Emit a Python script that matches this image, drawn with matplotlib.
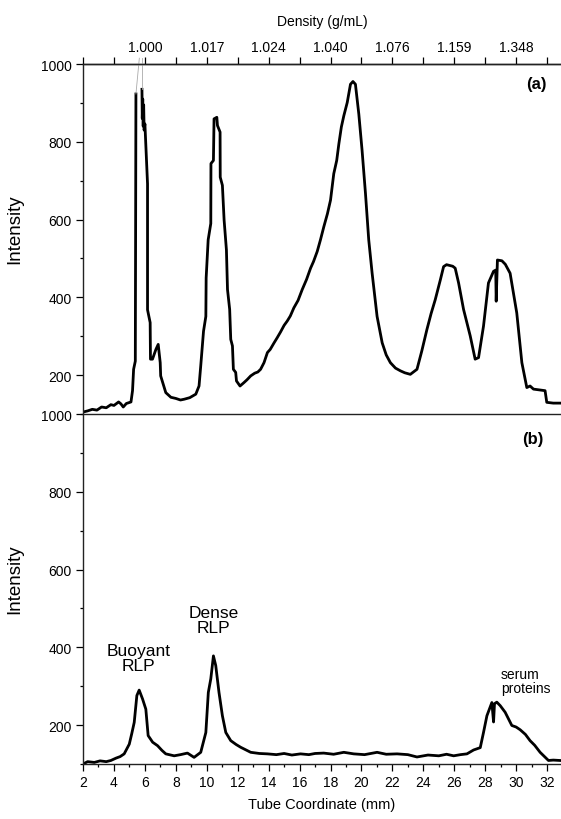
import numpy as np
import matplotlib
matplotlib.use("Agg")
import matplotlib.pyplot as plt
from matplotlib.ticker import MultipleLocator

plt.rcParams['font.family'] = ['Liberation Sans', 'DejaVu Sans']

# panel (a): full gradient profile, tube coordinate (mm) vs intensity
xa = [2.0, 2.3, 2.6, 2.9, 3.2, 3.5, 3.8, 4.0, 4.3, 4.45, 4.6, 4.8, 5.1, 5.2, 5.27, 5.38,
      5.42, 5.64, 5.81, 5.81, 5.83, 5.86, 5.89, 5.92, 5.95, 6.0, 6.17, 6.17, 6.34, 6.36,
      6.49, 6.71, 6.86, 6.99, 7.02, 7.35, 7.68, 8.0, 8.3, 8.54, 8.9, 9.29, 9.5, 9.61,
      9.79, 9.94, 9.96, 10.09, 10.26, 10.27, 10.43, 10.47, 10.65, 10.69, 10.86, 10.87,
      11.01, 11.12, 11.27, 11.34, 11.48, 11.55, 11.66, 11.72, 11.87, 11.92, 12.15, 12.41,
      12.6, 12.84, 13.1, 13.3, 13.48, 13.7, 13.92, 14.1, 14.35, 14.55, 14.77, 15.0, 15.2,
      15.4, 15.63, 15.9, 16.17, 16.45, 16.71, 16.9, 17.14, 17.35, 17.57, 17.8, 18.0, 18.21,
      18.4, 18.54, 18.7, 18.86, 19.08, 19.29, 19.45, 19.61, 19.83, 20.04, 20.26, 20.47,
      20.69, 21.01, 21.34, 21.6, 21.87, 22.2, 22.52, 22.8, 23.16, 23.59, 23.9, 24.23,
      24.5, 24.77, 25.1, 25.31, 25.5, 25.7, 25.9, 26.06, 26.28, 26.6, 27.03, 27.35, 27.57,
      27.89, 28.21, 28.54, 28.68, 28.71, 28.79, 29.08, 29.3, 29.61, 30.04, 30.37, 30.69,
      30.9, 31.12, 31.5, 31.87, 31.98, 32.4, 32.9]
ya = [105, 108, 112, 110, 118, 116, 124, 122, 131, 126, 118, 127, 131, 160, 215, 236,
      923, 1015, 1015, 935, 860, 910, 840, 895, 830, 846, 692, 368, 335, 241,
      241, 266, 279, 232, 198, 155, 143, 140, 136, 138, 142, 151, 172, 224,
      313, 351, 450, 548, 590, 744, 752, 859, 863, 842, 825, 709,
      688, 599, 522, 420, 369, 292, 275, 215, 207, 185, 172, 181,
      188, 198, 205, 208, 215, 232, 258, 266, 283, 296, 311, 328, 339,
      352, 373, 392, 420, 446, 475, 492, 518, 548, 582, 615, 650, 718,
      752, 795, 838, 867, 901, 948, 955, 948, 871, 778, 667, 548,
      462, 351, 283, 252, 232, 218, 211, 206, 202, 215, 262, 317,
      358, 394, 445, 479, 484, 482, 480, 475, 437, 369, 301, 241, 245,
      326, 437, 467, 470, 390, 496, 494, 485, 462, 360, 232, 168,
      172, 164, 162, 160, 130, 128, 128]

# panel (b): serum sample profile
xb = [2.0, 2.3, 2.73, 3.1, 3.5, 3.8, 4.13, 4.4, 4.66, 4.99, 5.15, 5.31, 5.48, 5.63,
      5.85, 6.06, 6.21, 6.5, 6.82, 7.1, 7.35, 7.89, 8.3, 8.75, 9.18, 9.61, 9.94, 10.1,
      10.26, 10.43, 10.58, 10.79, 11.01, 11.23, 11.55, 11.9, 12.19, 12.84, 13.4, 13.92,
      14.5, 15.0, 15.5, 16.06, 16.6, 17.0, 17.56, 18.2, 18.86, 19.5, 20.2, 21.01, 21.6,
      22.3, 23.0, 23.59, 24.3, 25.0, 25.5, 25.96, 26.4, 26.82, 27.25, 27.68, 27.89, 28.11,
      28.43, 28.54, 28.6, 28.75, 28.97, 29.29, 29.72, 30.0, 30.26, 30.6, 30.9, 31.2, 31.55,
      32.09, 32.4, 32.84]
yb = [100, 106, 104, 108, 106, 109, 115, 119, 126, 151, 178, 207, 276, 290,
      267, 241, 173, 156, 147, 135, 126, 121, 124, 128, 117, 130, 181, 284,
      319, 378, 353, 284, 224, 181, 160, 150, 143, 130, 127, 126,
      124, 127, 123, 126, 124, 127, 128, 125, 130, 126, 124, 130, 125,
      126, 124, 118, 123, 121, 125, 121, 124, 126, 136, 142, 181, 224,
      258, 208, 255, 259, 250, 233, 199, 195, 188, 176, 160, 148, 130,
      109, 110, 109]

# density scale on top axis
density_pos = [6, 10, 14, 18, 22, 26, 30]
density_labels = ['1.000', '1.017', '1.024', '1.040', '1.076', '1.159', '1.348']

fig = plt.figure(figsize=(5.61, 8.2), dpi=100)
ax_a = fig.add_axes([0.148, 0.4939, 0.852, 0.4268])
ax_b = fig.add_axes([0.148, 0.0671, 0.852, 0.4268])

xa = np.array(xa)
ya = np.array(ya, dtype=float)
off = ya > 1000
ax_a.plot(xa, np.where(off, np.nan, ya), color='black', lw=2.0)
# off-scale part of the first peak: thin grey, like the original
for i in np.where(off)[0]:
    for j in (i - 1, i + 1):
        if not off[j]:
            ax_a.plot([xa[i], xa[j]], [ya[i], ya[j]], color='#aaaaaa', lw=0.6, clip_on=False)

ax_b.plot(xb, yb, color='black', lw=2.0)

for ax in (ax_a, ax_b):
    ax.set_xlim(2, 32.9)
    ax.set_ylim(100, 1000)
    ax.set_yticks([200, 400, 600, 800, 1000])
    ax.yaxis.set_minor_locator(MultipleLocator(100))
    ax.spines['right'].set_visible(False)
    for s in ax.spines.values():
        s.set_linewidth(1.0)
        s.set_color('#222222')
    ax.tick_params(axis='y', which='major', direction='out', length=5, width=0.9,
                   labelsize=10, pad=3)
    ax.tick_params(axis='y', which='minor', direction='out', length=2.5, width=0.9)
    ax.set_ylabel('Intensity', fontsize=13.5)
    ax.yaxis.set_label_coords(-0.125, 0.53)

ax_a.tick_params(axis='x', which='both', bottom=False, labelbottom=False)
ax_a.spines['bottom'].set_visible(False)
ax_b.set_xticks(np.arange(2, 33, 2))
ax_b.xaxis.set_minor_locator(MultipleLocator(1))
ax_b.tick_params(axis='x', which='major', direction='out', length=5, width=0.9,
                 labelsize=10, pad=3)
ax_b.tick_params(axis='x', which='minor', direction='out', length=2.5, width=0.9)

top = ax_a.secondary_xaxis('top')
top_ticks = list(range(2, 33, 2))
top.set_xticks(top_ticks)
top.set_xticklabels([density_labels[density_pos.index(t)] if t in density_pos else ''
                     for t in top_ticks])
top.tick_params(direction='out', length=5, width=0.9, labelsize=10, pad=2)
top.spines['top'].set_linewidth(1.0)
top.set_xlabel('Density (g/mL)', fontsize=10, labelpad=11)

ax_a.text(0.949, 0.943, '(a)', transform=ax_a.transAxes, ha='center', va='center',
          fontsize=12, fontweight='bold')
ax_b.text(0.942, 0.929, '(b)', transform=ax_b.transAxes, ha='center', va='center',
          fontsize=12, fontweight='bold')

ax_b.text(5.57, 372, 'Buoyant\nRLP', ha='center', va='center', fontsize=12.5,
          linespacing=1.0)
ax_b.text(10.45, 470, 'Dense\nRLP', ha='center', va='center', fontsize=12.5,
          linespacing=1.0)
ax_b.text(29.0, 313, 'serum\nproteins', ha='left', va='center', fontsize=10,
          linespacing=1.05)

fig.text(0.574, 0.018, 'Tube Coordinate (mm)', ha='center', va='center', fontsize=10.5)

fig.savefig('out.png', dpi=100)
